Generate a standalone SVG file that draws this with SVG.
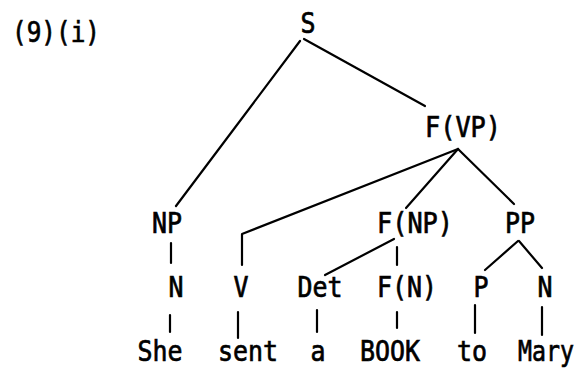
<svg xmlns="http://www.w3.org/2000/svg" width="584" height="372" viewBox="0 0 584 372">
<style>
text{font-family:"DejaVu Sans Mono","Liberation Mono",monospace;font-size:28px;fill:#000;stroke:#000;stroke-width:0.7;text-anchor:middle}
.e{stroke:#000;stroke-width:2.2;fill:none;stroke-linecap:round;stroke-linejoin:round}
</style>
<rect width="584" height="372" fill="#fff"/>
<g id="label"><text x="56" y="42" textLength="88" lengthAdjust="spacingAndGlyphs">(9)(i)</text></g>
<g id="connectors" class="e">
<line x1="300" y1="41" x2="176" y2="206"/>
<line x1="304" y1="39" x2="425" y2="106"/>
<polyline points="458,149 242,234 242,265"/>
<line x1="458" y1="149" x2="406" y2="208"/>
<line x1="458" y1="149" x2="514" y2="204"/>
<line x1="171" y1="243" x2="171" y2="263"/>
<line x1="394" y1="239" x2="325" y2="275"/>
<line x1="397" y1="247" x2="397" y2="265"/>
<line x1="518" y1="241" x2="485" y2="270"/>
<line x1="519" y1="241" x2="542" y2="268"/>
<line x1="170" y1="315" x2="170" y2="332"/>
<line x1="238" y1="312" x2="238" y2="338"/>
<line x1="317" y1="310" x2="317" y2="332"/>
<line x1="397" y1="312" x2="397" y2="328"/>
<line x1="475" y1="305" x2="475" y2="333"/>
<line x1="542" y1="307" x2="542" y2="335"/>
</g>
<g id="S"><text x="308" y="33" textLength="15" lengthAdjust="spacingAndGlyphs">S</text></g>
<g id="FVP"><text x="463" y="137" textLength="76" lengthAdjust="spacingAndGlyphs">F(VP)</text></g>
<g id="NP"><text x="167" y="233" textLength="30" lengthAdjust="spacingAndGlyphs">NP</text></g>
<g id="FNP"><text x="415" y="233" textLength="76" lengthAdjust="spacingAndGlyphs">F(NP)</text></g>
<g id="PP"><text x="520" y="233" textLength="30" lengthAdjust="spacingAndGlyphs">PP</text></g>
<g id="N1"><text x="176" y="297" textLength="15" lengthAdjust="spacingAndGlyphs">N</text></g>
<g id="V"><text x="241" y="297" textLength="15" lengthAdjust="spacingAndGlyphs">V</text></g>
<g id="Det"><text x="320" y="297" textLength="45" lengthAdjust="spacingAndGlyphs">Det</text></g>
<g id="FN"><text x="407" y="297" textLength="60" lengthAdjust="spacingAndGlyphs">F(N)</text></g>
<g id="P"><text x="481" y="297" textLength="15" lengthAdjust="spacingAndGlyphs">P</text></g>
<g id="N2"><text x="545" y="297" textLength="15" lengthAdjust="spacingAndGlyphs">N</text></g>
<g id="She"><text x="160" y="361" textLength="45" lengthAdjust="spacingAndGlyphs">She</text></g>
<g id="sent"><text x="248" y="361" textLength="60" lengthAdjust="spacingAndGlyphs">sent</text></g>
<g id="a"><text x="318" y="361" textLength="15" lengthAdjust="spacingAndGlyphs">a</text></g>
<g id="BOOK"><text x="390" y="361" textLength="60" lengthAdjust="spacingAndGlyphs">BOOK</text></g>
<g id="to"><text x="472" y="361" textLength="30" lengthAdjust="spacingAndGlyphs">to</text></g>
<g id="Mary"><text x="546" y="361" textLength="56" lengthAdjust="spacingAndGlyphs">Mary</text></g>
</svg>
